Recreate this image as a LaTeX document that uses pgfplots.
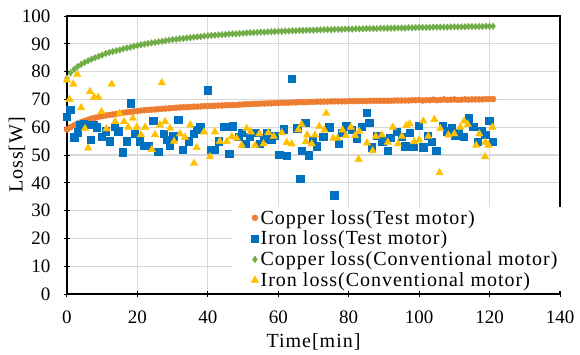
\documentclass[border=0pt]{standalone}
\usepackage{fontspec}
\setmainfont{Liberation Serif}
\usepackage{pgfplots}
\pgfplotsset{compat=1.18}
\definecolor{cOr}{HTML}{ED7D31}
\definecolor{cBl}{HTML}{0070C0}
\definecolor{cGr}{HTML}{70AD47}
\definecolor{cYe}{HTML}{FFC000}
\definecolor{cGrid}{HTML}{D9D9D9}

\pgfplotstableread{
t w
0 59.2
1 60.0
2 60.7
3 61.3
4 61.8
5 62.3
6 62.7
7 63.1
8 63.4
9 63.7
10 64.0
11 64.2
12 64.4
13 64.6
14 64.8
15 65.0
16 65.2
17 65.4
18 65.5
19 65.7
20 65.8
21 66.0
22 66.1
23 66.2
24 66.3
25 66.4
26 66.5
27 66.6
28 66.7
29 66.8
30 66.9
31 67.0
32 67.1
33 67.2
34 67.2
35 67.3
36 67.4
37 67.4
38 67.5
39 67.6
40 67.6
41 67.7
42 67.7
43 67.8
44 67.8
45 67.9
46 67.9
47 68.0
48 68.0
49 68.1
50 68.2
51 68.3
52 68.3
53 68.4
54 68.4
55 68.5
56 68.5
57 68.6
58 68.6
59 68.7
60 68.7
61 68.8
62 68.8
63 68.8
64 68.9
65 68.9
66 69.0
67 69.0
68 69.0
69 69.1
70 69.1
71 69.2
72 69.2
73 69.2
74 69.2
75 69.3
76 69.3
77 69.3
78 69.3
79 69.3
80 69.4
81 69.4
82 69.4
83 69.4
84 69.4
85 69.4
86 69.5
87 69.5
88 69.5
89 69.5
90 69.5
91 69.5
92 69.5
93 69.6
94 69.6
95 69.6
96 69.6
97 69.6
98 69.7
99 69.7
100 69.8
101 69.6
102 69.7
103 69.7
104 69.9
105 69.7
106 69.8
107 70.0
108 69.8
109 69.9
110 70.0
111 69.8
112 69.9
113 70.0
114 69.9
115 70.0
116 70.0
117 70.0
118 70.0
119 70.1
120 70.1
121 70.1
}\cuTest

\pgfplotstableread{
t w
0 63.8
0.9 66.2
2 56.4
3 58.2
3.7 60.8
4.8 61.2
5.8 60.8
6.8 55.6
7.5 61.0
8.4 60.0
9.9 56.6
11 58.5
12.2 55.0
13.6 60.2
14.5 58.6
15.8 51.0
16.9 55.0
18.1 68.7
19.3 57.7
20.7 55.0
21.7 53.3
23.1 53.3
24.5 62.3
25.9 51.2
27.4 57.7
28.3 55.5
29.1 53.3
30.2 56.7
31.6 62.7
32.9 51.8
34.5 55.0
35.9 57.7
36.8 59.0
37.8 60.0
39.9 73.3
40.8 51.8
42.0 51.8
43.0 55.0
44.6 60.2
46.1 50.4
47.1 60.4
48.7 56.6
49.6 58.0
50.6 54.1
51.8 56.6
53.4 58.0
54.8 54.1
55.8 56.0
56.7 57.8
58.0 55.5
59.0 57.0
60.3 50.2
61.6 59.3
62.4 49.7
63.8 77.5
65.4 59.6
66.2 41.4
66.7 51.5
67.6 61.6
68.6 50.0
69.8 55.5
70.9 53.2
72.8 56.6
74.5 60.0
75.9 35.6
77.1 54.0
78.2 58.0
79.3 60.4
80.9 59.0
82.3 56.0
83.7 60.2
85.1 65.2
85.8 61.6
86.6 52.8
88.0 57.0
89.5 55.0
91.0 51.5
91.8 56.3
93.7 58.3
95.0 56.5
96.0 53.2
97.3 58.0
98.4 53.0
99.8 60.5
101.2 52.8
102.5 57.0
103.6 54.7
104.8 51.5
106.7 60.5
108.0 58.5
109.3 59.8
110.2 57.0
111.2 57.9
112.6 56.6
114.0 63.2
115.4 60.2
116.6 54.7
117.8 58.5
118.8 57.3
119.9 62.3
120.9 54.8
}\feTest

\pgfplotstableread{
t w
0 77.6
1 79.5
2 80.8
3 81.8
4 82.6
5 83.3
6 83.9
7 84.5
8 85.0
9 85.5
10 86.0
11 86.5
12 86.9
13 87.2
14 87.5
15 87.8
16 88.2
17 88.5
18 88.8
19 89.1
20 89.4
21 89.7
22 89.9
23 90.1
24 90.3
25 90.5
26 90.7
27 90.9
28 91.1
29 91.3
30 91.5
31 91.6
32 91.8
33 91.9
34 92.1
35 92.2
36 92.4
37 92.5
38 92.6
39 92.8
40 92.9
41 93.0
42 93.1
43 93.2
44 93.3
45 93.4
46 93.5
47 93.6
48 93.6
49 93.7
50 93.8
51 93.9
52 94.0
53 94.0
54 94.1
55 94.2
56 94.2
57 94.3
58 94.4
59 94.4
60 94.5
61 94.5
62 94.6
63 94.6
64 94.7
65 94.7
66 94.8
67 94.8
68 94.9
69 94.9
70 94.9
71 95.0
72 95.0
73 95.1
74 95.1
75 95.1
76 95.2
77 95.2
78 95.2
79 95.3
80 95.3
81 95.3
82 95.4
83 95.4
84 95.4
85 95.5
86 95.5
87 95.5
88 95.5
89 95.6
90 95.6
91 95.6
92 95.6
93 95.7
94 95.7
95 95.7
96 95.7
97 95.8
98 95.8
99 95.8
100 95.9
101 95.9
102 95.9
103 95.9
104 96.0
105 96.0
106 96.0
107 96.0
108 96.0
109 96.1
110 96.1
111 96.1
112 96.1
113 96.1
114 96.2
115 96.2
116 96.2
117 96.2
118 96.2
119 96.3
120 96.3
121 96.3
}\cuConv

\pgfplotstableread{
t w
0 77.0
0.7 70.0
1.8 75.5
2.9 79.0
4.0 67.0
5.1 59.5
6.0 52.5
6.5 72.8
7.7 70.8
8.9 70.8
9.8 65.6
11.2 59.4
12.7 75.5
13.7 62.0
14.9 65.0
16.2 62.0
17.4 60.0
18.7 63.2
19.8 60.0
21.0 57.3
22.2 60.0
24.1 52.0
25.0 57.3
26.4 60.8
26.9 76.0
27.8 62.0
29.3 59.6
30.4 54.9
32.1 57.6
33.5 56.4
35.0 60.8
36.1 47.0
36.8 52.7
38.9 58.3
40.6 49.4
42.0 58.3
43.4 54.9
45.4 54.9
46.8 56.6
48.2 56.0
49.6 53.5
51.0 59.5
52.2 58.3
53.4 53.5
54.6 57.6
55.8 54.0
57.2 58.0
58.7 56.7
61.0 58.0
62.4 54.5
63.8 54.0
65.7 59.1
66.6 61.0
67.8 54.8
68.2 57.2
69.5 54.0
70.4 57.2
71.6 60.3
73.1 59.0
73.6 65.0
75.6 56.0
76.8 56.0
78.2 59.0
79.2 57.0
80.6 60.0
81.8 57.0
82.8 48.4
83.0 58.5
85.2 54.3
86.8 51.5
87.7 56.7
89.4 57.2
91.1 54.6
92.5 60.0
94.0 54.0
95.1 56.7
96.4 60.6
97.3 61.2
98.6 54.8
100.0 55.4
101.2 62.2
102.6 56.7
104.3 62.8
105.8 43.6
106.0 59.5
108.3 57.2
110.0 57.6
111.7 60.0
112.8 62.2
113.8 61.0
116.2 53.5
117.1 57.6
118.7 49.4
118.8 54.6
119.7 53.5
120.8 60.0
}\feConv

\begin{document}
\begin{tikzpicture}
\useasboundingbox (-67pt,-60pt) rectangle (513pt,294pt);
\begin{axis}[
  at={(0pt,0pt)}, anchor=south west,
  scale only axis, width=493pt, height=278pt,
  xmin=0, xmax=140, ymin=0, ymax=100,
  xtick={0,20,...,140}, ytick={0,10,...,100},
  xtick pos=left, ytick pos=left,
  grid=major, major grid style={draw=cGrid, line width=1.1pt},
  axis line style={line width=1.2pt, black},
  tick align=center, major tick length=6pt,
  every tick/.style={black, line width=1pt},
  /pgf/number format/assume math mode=true,
  tick label style={font=\fontsize{19}{21}\selectfont},
  yticklabel style={xshift=-10pt},
  xticklabel style={yshift=-10pt},
  xlabel={Time[min]}, ylabel={Loss[W]},
  label style={font=\fontsize{20}{22}\selectfont\addfontfeatures{LetterSpace=5}},
  xlabel style={at={(axis description cs:0.5,0)}, anchor=north, yshift=-36pt},
  ylabel style={at={(axis description cs:-0.1014,0.5)}, anchor=center},
  legend style={at={(rel axis cs:0.3347,0.313)}, anchor=north west,
    draw=none, fill=white, inner xsep=19pt, inner ysep=1pt,
    font=\fontsize{20}{22}\selectfont\addfontfeatures{LetterSpace=5},
    nodes={inner sep=2pt}, row sep=1.4pt},
  legend cell align=left,
  legend image code/.code={\draw[mark repeat=2,mark phase=2,#1] plot coordinates {(0cm,0cm) (0.26cm,0cm) (0.52cm,0cm)};},
]
\addplot[only marks, mark=*, mark size=3pt, mark options={fill=cOr, draw=cOr}] table {\cuTest};
\addlegendentry{Copper loss(Test motor)}
\addplot[only marks, mark=square*, mark size=3.7pt, mark options={fill=cBl, draw=cBl}] table {\feTest};
\addlegendentry{Iron loss(Test motor)}
\addplot[only marks, mark=diamond*, mark size=3.3pt, mark options={fill=cGr, draw=cGr}] table {\cuConv};
\addlegendentry{Copper loss(Conventional motor)}
\addplot[only marks, mark=triangle*, mark size=4.3pt, mark options={fill=cYe, draw=cYe}] table {\feConv};
\addlegendentry{Iron loss(Conventional motor)}
\end{axis}
\end{tikzpicture}
\end{document}
